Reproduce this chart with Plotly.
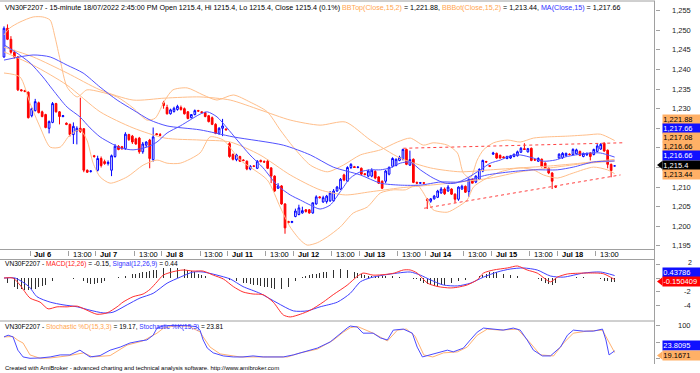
import plotly.graph_objects as go

# ---------------- DATA ----------------
day_labels = ["Jul 6", "Jul 7", "Jul 8", "Jul 11", "Jul 12", "Jul 13", "Jul 14", "Jul 15", "Jul 18"]
day_first_bar = [8, 27, 46, 65, 84, 103, 122, 141, 160]
afternoon_label = "13:00"
afternoon_offset = 11

open_px = [
    1243.2, 1250.5, 1247.7, 1244.4, 1243.2, 1234.8, 1234.6, 1234.2,
    1228.2, 1229.5, 1231.5, 1229.2, 1228.5, 1225.0, 1226.5, 1231.3, 1229.2, 1228.0, 1226.3, 1226.0, 1223.4, 1224.3, 1225.0, 1224.9, 1214.3, 1214.0, 1218.0,
    1214.3, 1217.3, 1216.5, 1216.0, 1214.3, 1217.8, 1220.4, 1220.3, 1219.8, 1223.4, 1223.0, 1222.3, 1222.5, 1219.0, 1220.7, 1222.0, 1217.0, 1223.6, 1223.4,
    1231.5, 1230.3, 1228.7, 1229.3, 1229.8, 1230.3, 1230.0, 1229.2, 1227.7, 1228.5, 1229.5, 1229.2, 1229.0, 1228.2, 1227.7, 1226.0, 1223.7, 1225.0, 1224.8,
    1221.1, 1218.3, 1217.0, 1217.8, 1216.9, 1216.6, 1214.6, 1215.4, 1214.8, 1216.8, 1216.5, 1216.6, 1214.9, 1212.8, 1209.7, 1210.3, 1205.7, 1201.2, 1201.0,
    1202.5, 1203.0, 1203.4, 1204.2, 1204.2, 1203.4, 1205.7, 1207.5, 1206.2, 1206.3, 1206.5, 1206.5, 1209.0, 1209.5, 1213.1, 1211.5, 1215.0, 1215.2, 1215.0,
    1214.8, 1213.4, 1212.8, 1212.8, 1214.0, 1212.6, 1211.5, 1211.5, 1213.3, 1215.3, 1215.5, 1216.8, 1217.1, 1219.6, 1215.6, 1217.1, 1211.2, 1211.0, 1211.1,
    1206.9, 1206.4, 1207.0, 1207.4, 1208.5, 1209.5, 1209.0, 1209.5, 1208.2, 1206.9, 1209.5, 1210.2, 1208.9, 1212.0, 1211.3, 1212.0, 1214.1, 1216.5, 1215.5,
    1218.4, 1218.6, 1218.1, 1217.7, 1217.3, 1217.4, 1217.8, 1218.0, 1218.9, 1219.8, 1219.0, 1219.9, 1217.0, 1216.6, 1217.1, 1216.1, 1214.8, 1213.6, 1210.2,
    1217.4, 1217.5, 1218.0, 1218.4, 1218.3, 1218.5, 1219.1, 1217.8, 1218.2, 1218.7, 1218.3, 1219.1, 1219.7, 1221.2, 1219.4, 1215.8, 1215.4,
]
high_px = [
    1251.0, 1251.5, 1248.5, 1245.0, 1243.4, 1235.0, 1234.8, 1234.4,
    1230.3, 1232.5, 1231.8, 1229.5, 1228.7, 1227.0, 1231.7, 1231.5, 1229.4, 1228.4, 1226.5, 1226.2, 1226.5, 1225.5, 1232.8, 1225.0, 1214.5, 1214.3, 1218.2,
    1218.0, 1217.8, 1217.0, 1216.8, 1218.3, 1221.0, 1220.7, 1220.5, 1224.0, 1223.6, 1223.3, 1222.6, 1222.8, 1221.5, 1221.7, 1222.3, 1225.2, 1223.8, 1223.8,
    1232.0, 1231.0, 1230.0, 1230.5, 1231.0, 1230.8, 1230.3, 1229.4, 1228.6, 1229.8, 1229.7, 1229.3, 1229.2, 1228.4, 1228.0, 1226.3, 1225.3, 1227.4, 1225.0,
    1221.5, 1218.6, 1218.5, 1218.0, 1217.1, 1216.8, 1215.6, 1215.6, 1216.9, 1217.0, 1216.8, 1217.0, 1215.1, 1213.0, 1211.0, 1210.5, 1205.9, 1201.4, 1201.4,
    1204.5, 1205.5, 1205.0, 1204.4, 1204.4, 1206.0, 1207.9, 1207.7, 1207.8, 1208.0, 1209.0, 1209.5, 1210.3, 1212.3, 1213.4, 1215.3, 1216.1, 1215.4, 1215.3,
    1215.0, 1213.6, 1214.5, 1214.8, 1214.3, 1212.8, 1211.7, 1214.4, 1215.3, 1217.6, 1217.3, 1218.0, 1219.8, 1219.8, 1219.3, 1217.3, 1211.4, 1211.2, 1211.3,
    1207.2, 1207.2, 1208.0, 1209.3, 1210.0, 1209.9, 1210.5, 1209.7, 1208.4, 1210.2, 1210.6, 1210.4, 1212.2, 1212.2, 1213.0, 1214.8, 1217.0, 1216.7, 1215.6,
    1219.0, 1218.8, 1218.3, 1217.9, 1218.0, 1218.2, 1218.5, 1219.3, 1220.2, 1221.2, 1220.0, 1220.1, 1217.2, 1217.6, 1217.3, 1216.3, 1215.0, 1213.8, 1210.4,
    1218.6, 1218.9, 1218.8, 1218.6, 1219.9, 1219.8, 1219.3, 1218.8, 1218.8, 1218.9, 1219.8, 1221.0, 1221.2, 1221.4, 1219.6, 1216.0, 1215.4,
]
low_px = [
    1243.0, 1247.5, 1244.0, 1242.8, 1234.5, 1234.4, 1234.2, 1227.5,
    1227.8, 1229.3, 1228.8, 1227.8, 1225.0, 1223.7, 1226.3, 1229.0, 1226.0, 1227.8, 1225.8, 1222.9, 1221.0, 1220.9, 1223.8, 1213.8, 1213.6, 1213.7, 1217.5,
    1214.0, 1215.0, 1215.7, 1215.5, 1212.8, 1217.5, 1219.4, 1219.5, 1219.5, 1221.8, 1221.0, 1220.8, 1218.5, 1218.5, 1220.2, 1214.8, 1216.5, 1223.2, 1223.0,
    1230.0, 1228.5, 1228.5, 1229.0, 1229.5, 1229.5, 1228.5, 1227.3, 1227.5, 1228.3, 1229.2, 1228.8, 1227.8, 1226.5, 1225.8, 1223.5, 1223.3, 1223.0, 1224.5,
    1217.5, 1216.8, 1216.6, 1216.4, 1216.6, 1214.3, 1214.3, 1215.1, 1214.6, 1216.3, 1216.2, 1214.6, 1211.0, 1208.8, 1209.5, 1205.5, 1198.1, 1200.7, 1200.8,
    1202.3, 1202.8, 1203.2, 1203.5, 1203.2, 1203.2, 1205.5, 1207.1, 1206.0, 1205.8, 1206.2, 1206.2, 1208.8, 1209.3, 1211.5, 1211.3, 1214.6, 1214.9, 1214.8,
    1213.0, 1213.0, 1212.5, 1212.5, 1212.0, 1210.8, 1209.5, 1211.0, 1213.0, 1215.0, 1215.3, 1216.6, 1216.8, 1215.6, 1215.4, 1211.0, 1210.9, 1210.8, 1210.9,
    1204.4, 1206.0, 1206.8, 1207.2, 1208.3, 1208.0, 1208.8, 1208.0, 1206.0, 1206.5, 1209.3, 1208.5, 1207.5, 1211.0, 1211.0, 1211.8, 1213.8, 1216.2, 1215.1,
    1218.2, 1217.2, 1217.3, 1217.3, 1217.1, 1217.2, 1217.6, 1217.8, 1218.7, 1219.5, 1218.8, 1216.6, 1216.7, 1216.4, 1215.0, 1214.6, 1213.3, 1209.5, 1209.8,
    1217.2, 1217.2, 1217.8, 1218.1, 1218.1, 1218.3, 1217.9, 1217.6, 1218.0, 1216.8, 1218.1, 1218.9, 1219.5, 1219.0, 1214.8, 1212.5, 1215.4,
]
close_px = [
    1250.5, 1247.7, 1244.4, 1243.2, 1234.8, 1234.6, 1234.4, 1227.7,
    1230.0, 1231.8, 1229.0, 1228.0, 1225.2, 1226.7, 1231.3, 1229.2, 1228.0, 1228.2, 1226.0, 1223.4, 1225.5, 1225.0, 1224.2, 1214.3, 1213.8, 1214.1, 1217.8,
    1217.3, 1215.5, 1216.0, 1216.3, 1218.0, 1220.4, 1219.6, 1219.8, 1223.5, 1222.1, 1221.5, 1221.0, 1219.0, 1221.0, 1221.5, 1217.3, 1222.8, 1223.4, 1223.2,
    1230.8, 1228.7, 1229.7, 1230.1, 1230.6, 1229.8, 1228.7, 1227.5, 1228.5, 1229.5, 1229.4, 1229.0, 1228.0, 1226.7, 1226.0, 1223.7, 1225.0, 1225.6, 1224.6,
    1217.8, 1217.1, 1218.2, 1216.6, 1216.8, 1214.6, 1215.3, 1215.3, 1216.6, 1216.5, 1216.4, 1214.8, 1212.8, 1209.0, 1210.3, 1205.7, 1199.6, 1201.0, 1201.2,
    1203.9, 1204.7, 1204.0, 1203.8, 1203.4, 1206.0, 1207.5, 1207.3, 1207.3, 1207.7, 1208.5, 1209.0, 1210.0, 1212.0, 1211.8, 1215.0, 1215.8, 1215.0, 1215.1,
    1213.3, 1213.2, 1214.1, 1214.3, 1212.3, 1211.0, 1209.7, 1214.1, 1215.0, 1217.3, 1217.1, 1217.6, 1219.6, 1215.8, 1217.0, 1211.2, 1211.0, 1211.1, 1211.0,
    1206.6, 1207.0, 1207.7, 1209.0, 1209.5, 1208.3, 1210.0, 1208.2, 1206.9, 1210.0, 1210.2, 1208.7, 1212.0, 1211.0, 1212.8, 1214.5, 1216.8, 1216.4, 1215.3,
    1218.7, 1217.4, 1217.4, 1217.5, 1217.8, 1217.9, 1218.4, 1219.0, 1219.9, 1219.6, 1219.8, 1216.8, 1216.9, 1217.3, 1215.3, 1214.8, 1213.6, 1211.5, 1210.0,
    1218.4, 1218.6, 1218.6, 1218.3, 1219.6, 1219.5, 1218.1, 1218.6, 1218.6, 1217.8, 1219.6, 1220.5, 1220.9, 1219.2, 1215.8, 1214.2, 1215.4,
]

# overlay lines, sampled at bar positions (bar index, price)
ma_fast_bar = [0, 3.2, 7.5, 11.2, 14.1, 18.2, 21.9, 24.8, 27.7, 30.6, 33.5, 37.2, 41.2, 44.1, 47, 50.8, 53.6, 56.5, 58.6, 61.4,
               64.3, 67.2, 70.9, 74.7, 78.7, 82.5, 85.4, 88.3, 91.1, 94, 96.9, 99.8, 102.7, 105.6, 108.5, 111.3, 114.2, 117.1, 120, 123.7,
               127.2, 130.1, 133.5, 137.3, 140.2, 143.1, 146, 148.8, 152.6, 155.5, 158.9, 161.8, 164.7, 169, 171.9, 176]
ma_fast_val = [1246.3, 1244.5, 1241.7, 1238.1, 1234.8, 1230.4, 1227.9, 1225.1, 1222.8, 1221.3, 1220.0, 1219.5, 1220.2, 1221.5, 1223.8, 1225.6, 1227.1, 1228.6, 1229.2, 1227.9,
               1225.1, 1222.0, 1218.2, 1214.9, 1210.5, 1208.0, 1206.7, 1205.4, 1204.4, 1205.4, 1208.8, 1212.3, 1213.9, 1214.4, 1214.4, 1214.9, 1216.1, 1216.4, 1214.4, 1212.3,
               1211.0, 1211.0, 1212.3, 1214.4, 1216.1, 1216.9, 1218.0, 1218.2, 1217.4, 1216.6, 1216.9, 1217.7, 1218.2, 1218.7, 1218.7, 1217.66]
ma_slow_bar = [0, 8.4, 13.3, 18.2, 22.8, 27.7, 32.6, 37.2, 42.1, 47, 56.5, 66.1, 80.5, 88.3, 94.9, 102.7, 108.5, 114.2, 120, 125.8,
               131.5, 139.3, 146, 152.6, 159.5, 164.1, 169.9, 176]
ma_slow_val = [1242.4, 1243.7, 1243.2, 1241.1, 1239.1, 1235.5, 1232.2, 1229.7, 1227.1, 1225.6, 1224.6, 1222.8, 1220.7, 1218.2, 1215.1, 1213.1, 1211.0, 1210.5, 1210.5, 1211.3,
               1211.3, 1213.1, 1213.9, 1214.4, 1214.4, 1215.1, 1216.4, 1216.66]
bb_top_bar = [0, 1.7, 4.6, 8.4, 11.2, 13.3, 14.7, 16.2, 18.2, 21.1, 23.9, 27.7, 32.6, 37.2, 41.2, 43.6, 46.4, 48.7, 52.8, 57.4,
              61.4, 66.1, 70.9, 75.9, 79.6, 83.4, 88.3, 93.2, 97.8, 102.7, 108.5, 113.4, 117.1, 120.9, 123.7, 127.8, 130.7, 132.4, 134.4, 136.4,
              138.2, 141.1, 145.1, 148.8, 152.6, 156.6, 162.4, 168, 171.9, 176]
bb_top_val = [1248.8, 1250.6, 1252.1, 1253.4, 1253.4, 1252.6, 1248.3, 1242.4, 1235.5, 1233.0, 1234.8, 1234.3, 1233.0, 1230.2, 1227.1, 1227.6, 1232.2, 1234.8, 1235.3, 1233.5,
              1232.2, 1233.5, 1231.7, 1229.2, 1224.6, 1220.2, 1215.6, 1213.9, 1215.6, 1218.2, 1219.5, 1221.5, 1222.5, 1220.7, 1221.3, 1220.7, 1218.7, 1213.6, 1212.3, 1216.9,
              1219.5, 1221.3, 1222.0, 1221.5, 1222.5, 1222.8, 1223.0, 1223.3, 1223.5, 1221.88]
bb_bot_bar = [0, 4.6, 7.5, 10.4, 13.3, 16.2, 19.0, 21.9, 23.9, 25.7, 27.7, 30.6, 35.5, 40.1, 44.1, 47, 50.8, 56.5, 59.4, 63.2,
              68.1, 75.9, 79.6, 82.5, 85.4, 87.4, 90.3, 93.2, 96.9, 100.7, 104.7, 108.5, 112.2, 115.7, 119.1, 122.1, 123.7, 127.8, 130.7, 133.5,
              135.3, 138.2, 143.1, 148.8, 152.6, 155.5, 159.5, 164.1, 169.9, 173.9, 176]
bb_bot_val = [1239.1, 1238.1, 1231.4, 1225.3, 1220.2, 1220.2, 1223.3, 1224.6, 1222.0, 1216.1, 1212.6, 1211.0, 1212.6, 1215.6, 1216.9, 1216.1, 1216.1, 1218.7, 1222.8, 1222.0,
              1216.9, 1211.8, 1204.9, 1199.8, 1196.5, 1195.2, 1195.8, 1197.3, 1199.8, 1203.4, 1204.9, 1208.5, 1209.3, 1209.3, 1210.5, 1206.7, 1204.2, 1203.6, 1204.9, 1206.7,
              1210.0, 1211.8, 1213.9, 1214.9, 1214.4, 1213.1, 1212.3, 1213.6, 1215.1, 1214.4, 1213.44]
band2_bar = [0, 8.4, 18.2, 27.7, 37.2, 46.4, 56.5, 65.2, 73.8, 82.5, 91.1, 98.4, 105.6, 114.2, 122.9, 131.5, 140.2, 148.8, 157.5, 166.2, 176]
band2_top = [1245.7, 1243.2, 1239.1, 1234.8, 1232.2, 1232.7, 1233.0, 1232.2, 1229.7, 1227.1, 1225.8, 1226.6, 1222.0, 1217.4, 1214.9, 1213.9, 1214.4, 1214.9, 1215.4, 1216.1, 1217.08]
band2_bot = [1244.5, 1241.1, 1236.0, 1229.2, 1225.1, 1222.5, 1222.0, 1221.5, 1218.2, 1213.1, 1209.3, 1208.0, 1208.8, 1209.8, 1210.5, 1211.3, 1212.3, 1213.9, 1214.9, 1215.9, 1216.66]

trend_hi_bar = [115.1, 178.3]
trend_hi_val = [1219.9, 1221.3]
trend_lo_bar = [121.1, 177.7]
trend_lo_val = [1204.6, 1213.1]

# MACD panel
macd_bar = [0, 2.6, 4.6, 7.5, 10.4, 12.7, 15.3, 18.2, 21.1, 23.9, 26.8, 29.7, 32.6, 34.3, 37.2, 40.1, 42.1, 44.1, 45.9, 48.7,
            51.6, 54.5, 57.4, 60.3, 63.2, 66.1, 68.9, 71.8, 74.7, 77.6, 80.5, 82.5, 85.4, 88.3, 92, 94.9, 98.9, 101.8, 103.5, 106.4,
            110, 112.5, 115.1, 117.1, 119.1, 122.1, 125.1, 128.6, 130.7, 133.5, 136.4, 138.2, 141.1, 145.1, 148, 150.8, 153.7, 157.5, 159.5, 162.4,
            167, 171, 172.8, 174.8, 176]
macd_val = [0.07, 0.07, -0.96, -2.9, -3.5, -4.5, -4.2, -4.2, -4.1, -4.7, -5.3, -5.1, -4.2, -3.5, -2.7, -2.3, -1.6, -0.5, 0.5, 1.0,
            1.26, 1.1, 1.1, 0.5, -0.07, -1.2, -2.0, -2.3, -2.4, -3.5, -5.4, -5.7, -5.3, -4.7, -3.5, -2.4, -1.0, 0.3, 0.8, 0.5,
            0.6, 0.8, 1.26, 1.26, 0.8, -0.7, -1.2, -1.4, -1.3, -0.96, -0.2, 0.8, 1.26, 1.56, 1.85, 1.26, 0.8, -0.5, 0.2, 0.67,
            0.8, 0.8, 0.7, 0.2, -0.150409]
signal_bar = [0, 3.2, 7.2, 9.5, 13.3, 17.0, 21.1, 24.8, 28.6, 31.4, 35.5, 39.2, 43, 47, 50.8, 54.5, 57.4, 61.4, 65.2, 68.9,
              73.8, 78.7, 83.4, 87.4, 91.1, 96.1, 99.8, 102.7, 105.6, 109.3, 113.4, 117.1, 120, 122.9, 126.6, 130.7, 134.4, 138.2, 142.2, 145.9,
              149.7, 153.7, 157.5, 161.2, 167, 171.9, 176]
signal_val = [0.07, 0.07, -1.2, -2.7, -3.5, -3.9, -4.2, -4.7, -5.1, -5.0, -3.9, -2.9, -2.2, -0.7, 0.2, 0.96, 0.96, 0.5, -0.07, -1.2,
              -2.2, -3.6, -4.8, -4.8, -4.2, -3.5, -2.2, -0.5, 0.1, 0.5, 0.8, 0.96, 0.5, -0.2, -0.96, -1.1, -0.7, 0.2, 0.96, 1.4,
              1.56, 1.26, 0.37, 0.2, 0.8, 0.96, 0.43786]
macd_hist = [
    -0.3, -0.6, -0.9, -1.2,
    -1.5, -1.6, -1.7, -1.7, -1.6, -1.5, -1.3, -1.1, -0.9,
    -0.6, -0.3, -0.1, 0.0, 0.05, 0.05, 0.0, -0.05, 0.05, 0.0,
    -0.3, -0.6, -0.8, -0.8, -0.7, -0.6, -0.4, -0.2,
    0.0, 0.1, 0.2, 0.3,
    0.4, 0.5, 0.6, 0.7, 0.8, 0.9, 1.0, 1.1, 1.2, 1.3, 1.4, 1.5, 1.5, 1.6, 1.6, 1.5, 1.5, 1.4, 1.3, 1.1, 0.9, 0.7, 0.5,
    0.3, 0.1, 0.05, 0.0, -0.05,
    -0.1, -0.15, -0.2, -0.3, -0.4, -0.5, -0.6, -0.7, -0.8, -0.9, -1.0, -1.1, -1.2, -1.3, -1.4, -1.5, -1.6, -1.6, -1.5, -1.2, -0.8,
    -0.4, 0.0, 0.2, 0.4, 0.5, 0.6, 0.7, 0.8, 0.9, 1.0, 1.1, 1.2, 1.3, 1.4, 1.4, 1.3,
    1.2, 1.0, 0.8, 0.6, 0.5,
    0.4, 0.4, 0.3, 0.3, 0.3, 0.4, 0.4, 0.4, 0.3, 0.2,
    0.1, 0.05, 0.0, -0.05, -0.1,
    -0.3, -0.6, -0.8, -1.0, -1.1, -1.1, -1.0, -0.9, -0.8,
    -0.6, -0.5, -0.4, -0.3, -0.2, -0.1,
    0.0, 0.1,
    0.3, 0.5, 0.7, 0.9, 0.9, 0.9, 0.8, 0.7, 0.6, 0.5, 0.4, 0.3,
    0.2, 0.1, 0.1, 0.05, 0.0, -0.1,
    -0.4, -0.6, -0.8, -0.9, -0.7,
    -0.3, 0.0, 0.1, 0.1, 0.15, 0.2, 0.2, 0.15, 0.1, 0.1, 0.05, 0.0,
    -0.1, -0.3, -0.4, -0.5, -0.59,
]

# Stochastic panel
stoch_k_bar = [0, 1.2, 2.6, 4, 5.5, 7.5, 10.4, 13.3, 16.2, 19, 21.9, 24.8, 27.7, 30.6, 33.5, 36.3, 39.2, 41.2, 43, 44.1,
               46, 49, 53, 55.5, 56.5, 57.4, 58.6, 60.3, 63.2, 66.1, 68.9, 71.8, 74.7, 77.6, 80.5, 83.4, 86.2, 90.3, 94, 96.9,
               98.9, 99.8, 101.8, 103.5, 106.4, 108.5, 110.5, 112.2, 115.1, 117.7, 119.1, 120.6, 122.9, 125.8, 127.8, 129.5, 132.4, 134.4, 136.4, 138.2,
               141.1, 143.9, 146.8, 148.8, 150.8, 152.6, 155.2, 157.5, 160.4, 162.4, 164.1, 167, 169.9, 172.5, 173.5, 174.4, 176]
stoch_k_val = [65, 70, 65, 26, 6, 2, 3, 6, 12, 12, 26, 6, 10, 26, 35, 47, 53, 56, 70, 91,
               97, 99, 98, 95, 85, 56, 32, 18, 9, 6, 6, 9, 6, 6, 6, 12, 21, 32, 50, 76,
               91, 97, 94, 76, 76, 62, 56, 85, 88, 76, 35, 6, 12, 21, 26, 21, 32, 56, 79, 91,
               88, 85, 91, 85, 56, 26, 9, 9, 35, 70, 85, 82, 82, 88, 56, 12, 23.8095]
stoch_d_bar = [0, 2.6, 4, 5.5, 7.5, 10.4, 13.3, 18.2, 23, 25.5, 30.6, 35.5, 40, 44.1, 46, 49, 53, 56.5, 57.4, 59.4,
               62.3, 68, 75.9, 81.7, 85.4, 90.3, 95, 97.8, 99.8, 101.8, 106.4, 110.5, 113.4, 116, 118.5, 121, 123.6, 126.7, 130.7, 133.5,
               136.4, 139.3, 143.1, 148, 151.7, 154.6, 158.4, 161.3, 164.1, 168, 172.5, 175, 176]
stoch_d_val = [65, 66, 55, 47, 12, 2, 3, 9, 18, 6, 10, 41, 53, 76, 91, 97, 97, 80, 65, 35,
               15, 6, 6, 6, 18, 29, 56, 79, 92, 96, 76, 53, 85, 88, 67, 12, 6, 18, 21, 35,
               70, 88, 85, 88, 47, 12, 9, 47, 76, 82, 85, 35, 19.1671]

price_ticks = list(range(1195, 1256, 5))
price_label_ticks = [1195, 1200, 1205, 1210, 1230, 1235, 1240, 1245, 1250, 1255]
macd_ticks = [2, 0, -2, -4]
macd_label_ticks = [-2, -4]
macd_top_label = 2
stoch_ticks = [100, 50, 0]
stoch_label_ticks = [100]

# ---------------- STYLE ----------------
W, H = 700, 373
def px(x): return x / W
def py(y): return 1 - y / H

FONT = "Liberation Sans, Arial, sans-serif"
C_BLUE_CANDLE = "#0000FF"
C_RED = "#FF0000"
C_ORANGE = "#FFBE8A"
C_ORANGE_TXT = "#FFA550"
C_MA = "#5252FF"
C_FRAME = "#A0A0A0"

N = len(close_px)
bars = list(range(N))
X_RANGE = [-1.15, 187.5]

fig = go.Figure()

def add_line(xs, ys, color, xa="x", ya="y", shape="spline", dash=None, width=1):
    fig.add_trace(go.Scatter(x=xs, y=ys, mode="lines", xaxis=xa, yaxis=ya,
                             line=dict(color=color, width=width, shape=shape, smoothing=0.7, dash=dash),
                             hoverinfo="skip"))

# price overlays
add_line(band2_bar, band2_top, C_ORANGE)
add_line(band2_bar, band2_bot, C_ORANGE)
add_line(bb_top_bar, bb_top_val, C_ORANGE)
add_line(bb_bot_bar, bb_bot_val, C_ORANGE)
add_line(ma_slow_bar, ma_slow_val, C_MA)
add_line(ma_fast_bar, ma_fast_val, C_MA)
add_line(trend_hi_bar, trend_hi_val, "#FF4040", shape="linear", dash="dot")
add_line(trend_lo_bar, trend_lo_val, "#FF4040", shape="linear", dash="dot")

fig.add_trace(go.Candlestick(
    x=bars, open=open_px, high=high_px, low=low_px, close=close_px,
    increasing=dict(line=dict(color=C_BLUE_CANDLE, width=1), fillcolor="white"),
    decreasing=dict(line=dict(color=C_RED, width=1), fillcolor=C_RED),
    whiskerwidth=0, xaxis="x", yaxis="y", hoverinfo="skip"))

# MACD
fig.add_trace(go.Bar(x=bars, y=macd_hist, xaxis="x2", yaxis="y2", width=0.22,
                     marker=dict(color="#303030", line=dict(width=0)), hoverinfo="skip"))
add_line(signal_bar, signal_val, "#4040FF", xa="x2", ya="y2")
add_line(macd_bar, macd_val, "#FF3030", xa="x2", ya="y2")

# Stochastic
add_line(stoch_d_bar, stoch_d_val, "#FFB070", xa="x3", ya="y3", shape="linear")
add_line(stoch_k_bar, stoch_k_val, "#4A4AFF", xa="x3", ya="y3", shape="linear")

# ---------------- AXES ----------------
day_ticks = [b - 0.5 for b in day_first_bar]
pm_ticks = [b + afternoon_offset - 0.5 for b in day_first_bar]
xdom = [0, px(654.5)]
common_x = dict(domain=xdom, range=X_RANGE, showgrid=False, zeroline=False, showline=False,
                showticklabels=False, fixedrange=True)
common_y = dict(side="right", showgrid=False, zeroline=False, showline=False, showticklabels=False,
                ticks="outside", ticklen=4, tickcolor=C_FRAME, fixedrange=True)

fig.update_layout(
    width=W, height=H, margin=dict(l=0, r=0, t=0, b=0), autosize=False,
    paper_bgcolor="white", plot_bgcolor="white", showlegend=False, hovermode=False,
    font=dict(family=FONT, size=8, color="#000"),
    bargap=0,
    xaxis=dict(common_x, anchor="y", ticks="outside", ticklen=5, tickcolor=C_FRAME,
               tickvals=day_ticks + pm_ticks, rangeslider=dict(visible=False)),
    yaxis=dict(common_y, anchor="x", domain=[py(249.5), py(1)], range=[1194.08, 1257.47], tickvals=price_ticks),
    xaxis2=dict(common_x, anchor="y2", ticks=""),
    yaxis2=dict(common_y, anchor="x2", domain=[py(321), py(260)], range=[-6.30, 2.74], tickvals=macd_ticks),
    xaxis3=dict(common_x, anchor="y3", ticks=""),
    yaxis3=dict(common_y, anchor="x3", domain=[py(363), py(321)], range=[-11.8, 111.8], tickvals=stoch_ticks),
)

# ---------------- FRAME LINES ----------------
shapes = []
for yy in (1, 249.5, 259.5, 321):
    shapes.append(dict(type="line", xref="paper", yref="paper", x0=0, x1=px(655), y0=py(yy), y1=py(yy),
                       line=dict(color=C_FRAME, width=1)))
shapes.append(dict(type="line", xref="paper", yref="paper", x0=px(654.5), x1=px(654.5), y0=py(1), y1=py(364),
                   line=dict(color=C_FRAME, width=1)))

annotations = []
# date labels
for t, lab in zip(day_ticks, day_labels):
    annotations.append(dict(xref="x", yref="paper", x=t + 0.7, y=py(254.5), xanchor="left", yanchor="middle",
                            text="<b>" + lab + "</b>", showarrow=False, font=dict(size=7.5, color="#000")))
for t in pm_ticks:
    annotations.append(dict(xref="x", yref="paper", x=t + 0.7, y=py(254.5), xanchor="left", yanchor="middle",
                            text=afternoon_label, showarrow=False, font=dict(size=7.5, color="#000")))
# right axis labels
for v in price_label_ticks:
    annotations.append(dict(xref="paper", yref="y", x=px(693), y=v, xanchor="right", yanchor="middle",
                            text=f"{v:,}", showarrow=False, font=dict(size=7.5, color="#222")))
for v in macd_label_ticks:
    annotations.append(dict(xref="paper", yref="y2", x=px(693), y=v, xanchor="right", yanchor="middle",
                            text=f"{v}", showarrow=False, font=dict(size=7.5, color="#222")))
# the "2" label sits just above the signal value box
annotations.append(dict(xref="paper", yref="paper", x=px(693), y=py(267), xanchor="right", yanchor="bottom",
                        text=f"{macd_top_label}", showarrow=False, font=dict(size=7, color="#222"),
                        borderpad=0))
for v in stoch_label_ticks:
    annotations.append(dict(xref="paper", yref="y3", x=px(693), y=v, xanchor="right", yanchor="middle",
                            text=f"{v}", showarrow=False, font=dict(size=7.5, color="#222")))

# value boxes on the right axis
BOX_ORANGE = "#FFB066"
boxes = [
    (f"{bb_top_val[-1]:,.2f}", 119, BOX_ORANGE, "#000", False),
    (f"{ma_fast_val[-1]:,.2f}", 128, "#1010FF", "#FFF", False),
    (f"{band2_top[-1]:,.2f}", 137, BOX_ORANGE, "#000", False),
    (f"{band2_bot[-1]:,.2f}", 146.5, BOX_ORANGE, "#000", False),
    (f"{ma_slow_val[-1]:,.2f}", 155.5, "#1010FF", "#FFF", False),
    (f"{close_px[-1]:,.1f}", 165, "#000000", "#FFF", True),
    (f"{bb_bot_val[-1]:,.2f}", 174, BOX_ORANGE, "#000", False),
    (f"{signal_val[-1]:.5f}", 272, "#1010FF", "#FFF", False),
    (f"{macd_val[-1]:.6f}", 281.5, "#FF0000", "#FFF", True),
    (f"{stoch_k_val[-1]:.4f}", 345.5, "#1010FF", "#FFF", False),
    (f"{stoch_d_val[-1]:.4f}", 355.5, BOX_ORANGE, "#000", True),
]
for txt, cy, bg, fg, arrow in boxes:
    if arrow:
        shapes.append(dict(type="path", xref="paper", yref="paper",
                           path=f"M {px(657)},{py(cy)} L {px(662.5)},{py(cy - 4.3)} L {px(662.5)},{py(cy + 4.3)} Z",
                           fillcolor=bg, line=dict(width=0), layer="above"))

# titles
def span(t, c):
    return f"<span style='color:{c}'>{t}</span>"

header = ("VN30F2207 - 15-minute 18/07/2022 2:45:00 PM Open 1215.4, Hi 1215.4, Lo 1215.4, Close 1215.4 (0.1%) "
          + span("BBTop(Close,15,2)", C_ORANGE_TXT) + f" = {bb_top_val[-1]:,.2f}, "
          + span("BBBot(Close,15,2)", C_ORANGE_TXT) + f" = {bb_bot_val[-1]:,.2f}, "
          + span("MA(Close,15)", "#3030FF") + f" = {ma_fast_val[-1]:,.2f}")
macd_title = ("VN30F2207 - " + span("MACD(12,26)", "#FF2020") + f" = {macd_val[-1]:.2f}, "
              + span("Signal(12,26,9)", "#3030FF") + f" = {signal_val[-1]:.2f}")
stoch_title = ("VN30F2207 - " + span("Stochastic %D(15,3,3)", C_ORANGE_TXT) + f" = {stoch_d_val[-1]:.2f}, "
               + span("Stochastic %K(15,3)", "#3030FF") + f" = {stoch_k_val[-1]:.2f}")
footer = "Created with AmiBroker - advanced charting and technical analysis software. http://www.amibroker.com"

for txt, yy, sz in ((header, 7.5, 7.15), (macd_title, 264, 6.6), (stoch_title, 326.5, 6.6), (footer, 368, 6)):
    annotations.append(dict(xref="paper", yref="paper", x=px(2.5), y=py(yy), xanchor="left", yanchor="middle",
                            text=txt, showarrow=False, font=dict(size=sz, color="#000")))

for txt, cy, bg, fg, arrow in boxes:
    annotations.append(dict(xref="paper", yref="paper", x=px(662), y=py(cy), xanchor="left", yanchor="middle",
                            text=txt, showarrow=False, font=dict(size=7.5, color=fg),
                            bgcolor=bg, width=36, height=8, borderpad=0.3, align="left"))

fig.update_layout(shapes=shapes, annotations=annotations)
fig.write_html("out.html", config={"displayModeBar": False, "staticPlot": True},
               post_script="document.body.style.margin='0px';document.body.style.overflow='hidden';")
